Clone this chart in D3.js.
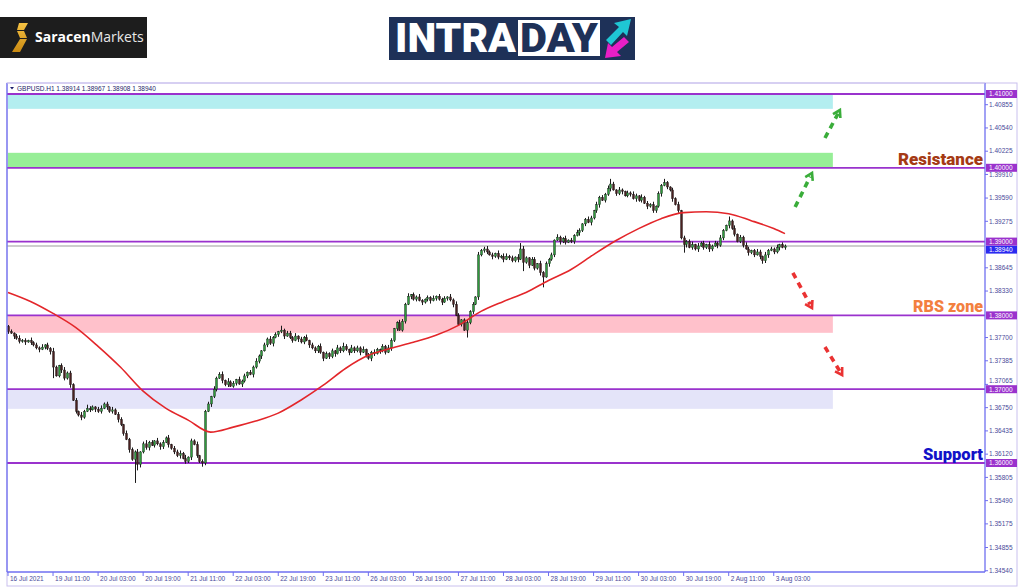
<!DOCTYPE html>
<html><head><meta charset="utf-8">
<script src="https://cdn.jsdelivr.net/npm/d3@7"></script>
<style>html,body{margin:0;padding:0;background:#fff;} svg{display:block}</style>
</head><body>
<svg id="c" width="1024" height="587"></svg>
<script>
// ---------------- DATA ----------------
const symbolTitle = "GBPUSD.H1  1.38914 1.38967 1.38908 1.38940";
const firstOpen = 1.37850;
const closes = [
1.37780,1.37760,1.37720,1.37690,1.37650,1.37660,1.37640,1.37660,1.37630,1.37600,
1.37560,1.37540,1.37570,1.37600,1.37550,1.37510,1.37300,1.37180,1.37320,1.37260,
1.37150,1.37220,1.37060,1.36850,1.36700,1.36650,1.36620,1.36700,1.36740,1.36720,
1.36760,1.36730,1.36700,1.36740,1.36800,1.36760,1.36700,1.36720,1.36660,1.36590,
1.36520,1.36400,1.36320,1.36180,1.36050,1.36150,1.35980,1.36150,1.36260,1.36210,
1.36280,1.36240,1.36300,1.36260,1.36220,1.36280,1.36340,1.36250,1.36200,1.36150,
1.36100,1.36130,1.36060,1.36020,1.36080,1.36300,1.36250,1.36100,1.36020,1.36000,
1.36700,1.36800,1.36900,1.37000,1.37150,1.37200,1.37120,1.37060,1.37100,1.37040,
1.37080,1.37130,1.37070,1.37110,1.37180,1.37230,1.37200,1.37300,1.37380,1.37450,
1.37520,1.37600,1.37680,1.37620,1.37700,1.37740,1.37780,1.37800,1.37720,1.37760,
1.37700,1.37660,1.37720,1.37680,1.37640,1.37700,1.37660,1.37600,1.37560,1.37520,
1.37580,1.37500,1.37420,1.37480,1.37440,1.37520,1.37480,1.37560,1.37520,1.37580,
1.37540,1.37500,1.37560,1.37520,1.37560,1.37500,1.37540,1.37460,1.37420,1.37500,
1.37480,1.37540,1.37520,1.37580,1.37500,1.37560,1.37660,1.37820,1.37900,1.37800,
1.37920,1.38150,1.38260,1.38280,1.38220,1.38250,1.38200,1.38180,1.38220,1.38240,
1.38200,1.38230,1.38260,1.38220,1.38180,1.38230,1.38250,1.38210,1.38150,1.38000,
1.37880,1.37940,1.37800,1.37900,1.38050,1.38150,1.38250,1.38820,1.38880,1.38900,
1.38860,1.38820,1.38800,1.38840,1.38790,1.38800,1.38760,1.38800,1.38780,1.38740,
1.38790,1.38760,1.38900,1.38720,1.38780,1.38680,1.38760,1.38640,1.38700,1.38580,
1.38520,1.38700,1.38760,1.38820,1.39020,1.39060,1.39000,1.39040,1.38990,1.39020,
1.39000,1.39080,1.39120,1.39150,1.39240,1.39300,1.39260,1.39320,1.39420,1.39500,
1.39600,1.39560,1.39640,1.39720,1.39780,1.39700,1.39650,1.39700,1.39680,1.39620,
1.39660,1.39640,1.39580,1.39620,1.39560,1.39600,1.39520,1.39480,1.39500,1.39420,
1.39480,1.39650,1.39760,1.39800,1.39740,1.39700,1.39580,1.39500,1.39420,1.39050,
1.38960,1.39000,1.38920,1.38960,1.38900,1.38940,1.38980,1.38920,1.38960,1.38900,
1.38940,1.38980,1.38950,1.39050,1.39150,1.39220,1.39280,1.39180,1.39100,1.39000,
1.39060,1.38950,1.38900,1.38850,1.38880,1.38820,1.38860,1.38800,1.38740,1.38820,
1.38880,1.38900,1.38860,1.38920,1.38960,1.38920,1.38940
];
// upper / lower wick sizes in pips, one digit per bar
const wickUp = "2313423142324132521342323142532134231423314232413523142324133425132413231423415231423132421324231423324132413224132314253142324132421324312432413242132413231424312423142342314244231424213314232314224132431243142324231421324314232413242132413234142314232421324132431243142324132421324";
const wickDn = "3142324132241324312432413242131423142314231423142341324314232413241324314231423123142314234132413241231423142332413241322413241324314231423123142314234132413241231423142331423241322413241324314231423123142314234132413241231423142332413241322413241324314231423123142314234132413";
const highOverrides = [[182, 1.38980], [214, 1.39850], [233, 1.39850], [256, 1.39340], [97, 1.37860]];
const lowOverrides  = [[16, 1.37150], [45, 1.35730], [46, 1.35900], [69, 1.35950], [163, 1.37700], [190, 1.38380], [183, 1.38600], [240, 1.38850], [268, 1.38700]];

const maIndex  = [0,8,16,24,32,40,48,56,64,72,80,88,96,104,112,120,128,136,144,152,160,168,176,184,192,200,208,216,224,232,240,248,256,264,272,276];
const maValues = [1.38311,1.38189,1.38027,1.37838,1.37581,1.37297,1.36973,1.36743,1.36581,1.36419,1.36486,1.36568,1.36676,1.36851,1.37054,1.37284,1.37459,1.37554,1.37635,1.37730,1.37865,1.38054,1.38189,1.38311,1.38473,1.38622,1.38824,1.39014,1.39176,1.39311,1.39392,1.39405,1.39378,1.39284,1.39176,1.39108];

const xLabels = ["16 Jul 2021","19 Jul 11:00","20 Jul 03:00","20 Jul 19:00","21 Jul 11:00","22 Jul 03:00","22 Jul 19:00","23 Jul 11:00","26 Jul 03:00","26 Jul 19:00","27 Jul 11:00","28 Jul 03:00","28 Jul 19:00","29 Jul 11:00","30 Jul 03:00","30 Jul 19:00","2 Aug 11:00","3 Aug 03:00"];
const xLabelStep = 16;

const yTickLabels = ["1.40855","1.40540","1.40225","1.39910","1.39590","1.39275","1.38645","1.38330","1.37700","1.37385","1.37065","1.36750","1.36435","1.36120","1.35805","1.35490","1.35175","1.34855","1.34540"];
const levels = [1.41000, 1.40000, 1.39000, 1.38000, 1.37000, 1.36000];
const currentPrice = 1.38940;

const zoneTop    = [1.41000, 1.40203, 1.38000, 1.37000];
const zoneBottom = [1.40799, 1.40000, 1.37764, 1.36734];
const zoneEndIndex = 293;

const labelNames = ["Resistance", "RBS zone", "Support"];
const labelLevels = [1.40000, 1.38000, 1.36000];

// arrows: [fromIndex, fromPrice, toIndex, toPrice]
const upArrows   = [[279.6, 1.39469, 285.6, 1.39930], [290.2, 1.40404, 295.5, 1.40783]];
const downArrows = [[278.8, 1.38575, 285.6, 1.38100], [290.2, 1.37572, 296.3, 1.37192]];

// ---------------- DRAW ----------------
const svg = d3.select("#c");
const N = closes.length;
const x = d3.scaleLinear().domain([0, N - 1]).range([8, 785]);
const y = d3.scaleLinear().domain([1.36, 1.41]).range([463, 94]);
const plotL = 7, plotR = 985, plotT = 83, plotB = 572;

const wu = wickUp.split("").map(Number), wd = wickDn.split("").map(Number);
const candles = closes.map((c, i) => {
  const o = i === 0 ? firstOpen : closes[i - 1];
  let h = Math.max(o, c) + (wu[i] || 0) * 0.0001;
  let l = Math.min(o, c) - (wd[i] || 0) * 0.0001;
  return {i, o, c, h, l};
});
highOverrides.forEach(([i, v]) => { if (candles[i]) candles[i].h = Math.max(candles[i].h, v); });
lowOverrides.forEach(([i, v]) => { if (candles[i]) candles[i].l = Math.min(candles[i].l, v); });

svg.append("rect").attr("width", 1024).attr("height", 587).attr("fill", "#fff");

// ----- header logos -----
const lg = svg.append("g");
lg.append("rect").attr("x", 0).attr("y", 17).attr("width", 147).attr("height", 41).attr("fill", "#1d1d1d");
const grad = svg.append("defs").append("linearGradient").attr("id", "gold").attr("x1", 0).attr("y1", 0).attr("x2", 0).attr("y2", 1);
grad.append("stop").attr("offset", 0).attr("stop-color", "#f6c243");
grad.append("stop").attr("offset", 1).attr("stop-color", "#c98a12");
lg.append("path").attr("d", "M19,23 L28,23 L24,30 L17,30 Z M17,31 L24,31 L27,38 L20,38 Z M20,39 L27,39 L20,52 L12,52 Z")
  .attr("fill", "url(#gold)");
const st = lg.append("text").attr("x", 35).attr("y", 42).attr("fill", "#fff")
  .style("font-family", "'Open Sans','Noto Sans',sans-serif").style("font-size", "14px");
st.append("tspan").attr("font-weight", 700).text("Saracen");
st.append("tspan").attr("font-weight", 400).attr("fill", "#e8e8e8").text("Markets");

const ig = svg.append("g");
ig.append("rect").attr("x", 389).attr("y", 17).attr("width", 246).attr("height", 43).attr("fill", "#1e3158");
ig.append("rect").attr("x", 518).attr("y", 20).attr("width", 82).attr("height", 36).attr("fill", "#fff");
ig.append("text").attr("x", 395).attr("y", 52).attr("fill", "#fff").attr("textLength", 121).attr("lengthAdjust", "spacingAndGlyphs")
  .style("font-family", "Roboto,'Liberation Sans',sans-serif").style("font-weight", 900).style("font-size", "40px").text("INTRA");
ig.append("text").attr("x", 520).attr("y", 52).attr("fill", "#1e3158").attr("textLength", 78).attr("lengthAdjust", "spacingAndGlyphs")
  .style("font-family", "Roboto,'Liberation Sans',sans-serif").style("font-weight", 900).style("font-size", "40px").text("DAY");
ig.append("path").attr("d", "M606,40 L619,27 L614,23 L631,19 L627,36 L623,32 L611,45 Z").attr("fill", "#1fc7d4");
ig.append("path").attr("d", "M629,42 L617,52 L621,56 L605,58 L608,43 L612,47 L624,37 Z").attr("fill", "#e81fc6");

// ----- chart frame -----
svg.append("rect").attr("x", plotL).attr("y", plotT).attr("width", 1017 - plotL).attr("height", 586 - plotT)
  .attr("fill", "none").attr("stroke", "#c9c0ee").attr("stroke-width", 1);

const clip = svg.append("clipPath").attr("id", "pc").append("rect")
  .attr("x", plotL).attr("y", plotT).attr("width", plotR - plotL).attr("height", plotB - plotT);
const plot = svg.append("g").attr("clip-path", "url(#pc)");

// zones
const zoneColors = ["#b3eef0", "#97ee97", "#ffc1cb", "#e4e4f9"];
plot.selectAll("rect.zone").data(zoneTop).join("rect").attr("class", "zone")
  .attr("x", plotL + 1).attr("y", d => y(d)).attr("width", x(zoneEndIndex) - plotL - 1)
  .attr("height", (d, k) => y(zoneBottom[k]) - y(d)).attr("fill", (d, k) => zoneColors[k]);

// level lines
plot.selectAll("line.lvl").data(levels).join("line").attr("class", "lvl")
  .attr("x1", plotL).attr("x2", plotR).attr("y1", d => y(d)).attr("y2", d => y(d))
  .attr("stroke", "#9a32cd").attr("stroke-width", 1.8);

// current price line
plot.append("line").attr("x1", plotL).attr("x2", plotR).attr("y1", y(currentPrice)).attr("y2", y(currentPrice))
  .attr("stroke", "#bdbdbd").attr("stroke-width", 1.6);

// candles
const cg = plot.append("g");
cg.selectAll("line.wick").data(candles).join("line").attr("class", "wick")
  .attr("x1", d => Math.round(x(d.i)) + 0.5).attr("x2", d => Math.round(x(d.i)) + 0.5)
  .attr("y1", d => y(d.h)).attr("y2", d => y(d.l)).attr("stroke", "#1a1a1a").attr("stroke-width", 1);
cg.selectAll("rect.body").data(candles).join("rect").attr("class", "body")
  .attr("x", d => Math.round(x(d.i)) - 0.5).attr("width", 2)
  .attr("y", d => y(Math.max(d.o, d.c))).attr("height", d => Math.max(1, Math.abs(y(d.o) - y(d.c))))
  .attr("fill", d => d.c >= d.o ? "#2e9a3c" : "#4a2020")
  .attr("stroke", "#1a1a1a").attr("stroke-width", 0.4);

// moving average
const maLine = d3.line().x((d, k) => x(maIndex[k])).y(d => y(d)).curve(d3.curveMonotoneX);
plot.append("path").attr("d", maLine(maValues)).attr("fill", "none").attr("stroke", "#e3262a").attr("stroke-width", 1.6);

// arrows
function drawArrow(a, color) {
  const x1 = x(a[0]), y1 = y(a[1]), x2 = x(a[2]), y2 = y(a[3]);
  const ang = Math.atan2(y2 - y1, x2 - x1);
  const len = Math.hypot(x2 - x1, y2 - y1);
  const g = plot.append("g");
  g.append("line").attr("x1", x1).attr("y1", y1)
    .attr("x2", x1 + Math.cos(ang) * (len - 4)).attr("y2", y1 + Math.sin(ang) * (len - 4))
    .attr("stroke", color).attr("stroke-width", 3.6).attr("stroke-dasharray", "6,5");
  const hl = 8, ha = 0.55;
  const p1 = [x2 - hl * Math.cos(ang - ha), y2 - hl * Math.sin(ang - ha)];
  const p2 = [x2 - hl * Math.cos(ang + ha), y2 - hl * Math.sin(ang + ha)];
  g.append("path").attr("d", `M${p1[0]},${p1[1]} L${x2},${y2} L${p2[0]},${p2[1]}`)
    .attr("fill", "none").attr("stroke", color).attr("stroke-width", 2.6).attr("stroke-linejoin", "miter");
}
upArrows.forEach(a => drawArrow(a, "#3aad3a"));
downArrows.forEach(a => drawArrow(a, "#ea3232"));

// zone labels
const labelColors = ["#a53a14", "#f3803f", "#1212c8"];
const labelWidths = [85, 70, 60];
svg.selectAll("text.zl").data(labelNames).join("text").attr("class", "zl")
  .attr("x", (d, k) => 983 - labelWidths[k]).attr("y", (d, k) => y(labelLevels[k]) - 3)
  .attr("textLength", (d, k) => labelWidths[k]).attr("lengthAdjust", "spacingAndGlyphs")
  .attr("fill", (d, k) => labelColors[k])
  .style("font-family", "Roboto,'Liberation Sans',sans-serif").style("font-weight", 900).style("font-size", "17px")
  .text(d => d);

// axes lines
svg.append("line").attr("x1", plotL).attr("x2", plotL).attr("y1", plotT).attr("y2", plotB).attr("stroke", "#6f6ff0").attr("stroke-width", 1.3);
svg.append("line").attr("x1", plotR).attr("x2", plotR).attr("y1", plotT).attr("y2", plotB).attr("stroke", "#6f6ff0").attr("stroke-width", 1.3);
svg.append("line").attr("x1", plotL).attr("x2", plotR).attr("y1", plotB).attr("y2", plotB).attr("stroke", "#6f6ff0").attr("stroke-width", 1.3);
svg.append("line").attr("x1", plotL).attr("x2", plotR).attr("y1", plotT).attr("y2", plotT).attr("stroke", "#c9c0ee").attr("stroke-width", 1);

// title
svg.append("path").attr("d", "M10,87 L14,87 L12,89.5 Z").attr("fill", "#1d1d6a");
svg.append("text").attr("x", 17).attr("y", 90.5).attr("fill", "#1d1d6a")
  .style("font-family", "'Liberation Sans',sans-serif").style("font-size", "6.5px").text(symbolTitle);

// right axis
const yAxisG = svg.append("g");
const fs = "6.5px";
yAxisG.selectAll("line.yt").data(yTickLabels).join("line").attr("class", "yt")
  .attr("x1", plotR).attr("x2", plotR + 3).attr("y1", d => y(+d)).attr("y2", d => y(+d)).attr("stroke", "#6f6ff0");
// keep tick labels clear of the level boxes (nudge when too close)
function labelY(v) {
  const py = y(v);
  for (const L of levels) {
    const ly = y(L);
    if (Math.abs(py - ly) < 8.5 && py < ly) return ly - 8.5;
  }
  return py;
}
yAxisG.selectAll("text.yt").data(yTickLabels).join("text").attr("class", "yt")
  .attr("x", plotR + 4).attr("y", d => labelY(+d) + 2.3).attr("fill", "#4a4a9a")
  .style("font-family", "'Liberation Sans',sans-serif").style("font-size", fs).text(d => d);

// current price box (sits just below the 1.39000 box)
const cpY = Math.max(y(currentPrice), y(1.39) + 8);
yAxisG.append("rect").attr("x", plotR + 1).attr("y", cpY - 4).attr("width", 31).attr("height", 8).attr("fill", "#2a2af0");
yAxisG.append("text").attr("x", plotR + 4).attr("y", cpY + 2.3).attr("fill", "#fff")
  .style("font-family", "'Liberation Sans',sans-serif").style("font-size", fs).text(currentPrice.toFixed(5));
yAxisG.selectAll("rect.lb").data(levels).join("rect").attr("class", "lb")
  .attr("x", plotR + 1).attr("y", d => y(d) - 4).attr("width", 31).attr("height", 8).attr("fill", "#9a32cd");
yAxisG.selectAll("text.lb").data(levels).join("text").attr("class", "lb")
  .attr("x", plotR + 4).attr("y", d => y(d) + 2.3).attr("fill", "#fff")
  .style("font-family", "'Liberation Sans',sans-serif").style("font-size", fs).text(d => d.toFixed(5));

// bottom axis
const xAxisG = svg.append("g");
xAxisG.selectAll("line.xt").data(xLabels).join("line").attr("class", "xt")
  .attr("x1", (d, k) => x(k * xLabelStep)).attr("x2", (d, k) => x(k * xLabelStep))
  .attr("y1", plotB).attr("y2", plotB + 4).attr("stroke", "#6f6ff0");
xAxisG.selectAll("text.xt").data(xLabels).join("text").attr("class", "xt")
  .attr("x", (d, k) => x(k * xLabelStep) + 2).attr("y", plotB + 8.5).attr("fill", "#4a4a9a")
  .style("font-family", "'Liberation Sans',sans-serif").style("font-size", "6.5px").text(d => d);
</script>
</body></html>
